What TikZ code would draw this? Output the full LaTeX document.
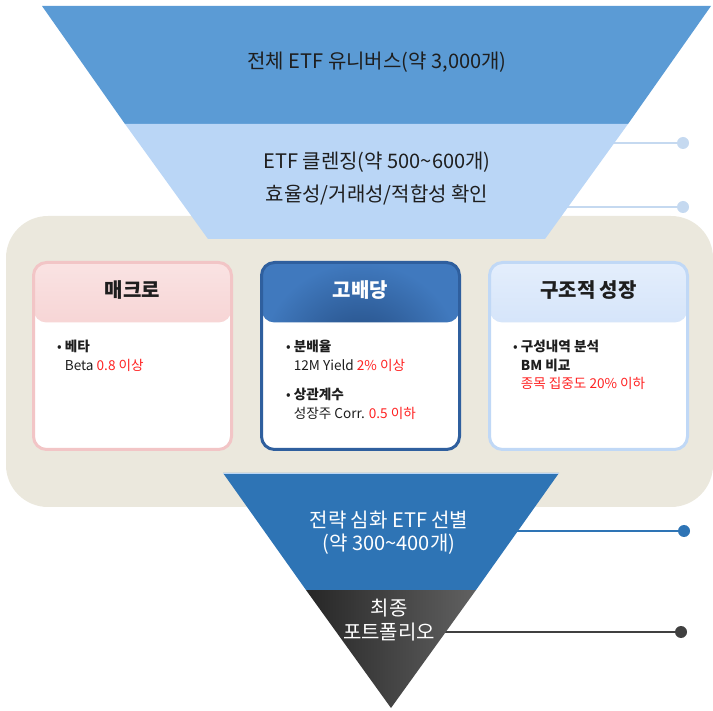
\documentclass[tikz,border=0pt]{standalone}
\usepackage{fontspec}
\setmainfont{Noto Sans CJK KR}
\usetikzlibrary{positioning}

\definecolor{topblue}{HTML}{5B9BD5}
\definecolor{lightblue}{HTML}{BAD6F6}
\definecolor{beige}{HTML}{EBE8DD}
\definecolor{deepblue}{HTML}{2E74B5}
\definecolor{linklight}{HTML}{C5D9F0}
\definecolor{linkdark}{HTML}{404040}
\definecolor{pinkedge}{HTML}{F2C5C6}
\definecolor{pinktop}{HTML}{FAE3E3}
\definecolor{pinkbot}{HTML}{F0B8B9}
\definecolor{navyedge}{HTML}{2F5F9E}
\definecolor{navyin}{HTML}{22497E}
\definecolor{navyout}{HTML}{4079BE}
\definecolor{skyedge}{HTML}{C0D8F6}
\definecolor{skytop}{HTML}{E4EEFC}
\definecolor{skybot}{HTML}{B6D1F4}
\definecolor{hlred}{HTML}{FF2222}
\definecolor{txtdark}{HTML}{1E1E1E}

\newcommand{\redtxt}[1]{\textcolor{hlred}{#1}}

\begin{document}
\begin{tikzpicture}[
      x=1pt, y=-1pt,
      node distance=228pt,
      card/.style={rectangle,rounded corners=13pt,line width=3pt,fill=white,minimum width=198pt,minimum height=187pt},
      head/.style={path picture={\shade[#1] (path picture bounding box.north west) rectangle ([yshift=-60pt]path picture bounding box.north east);}},
      title/.style={font=\fontsize{20}{23}\selectfont\bfseries},
      body/.style={anchor=north west,align=left,inner sep=0pt,text=txtdark,font=\fontsize{13.6}{18.5}\selectfont},
      band/.style={font=\fontsize{20}{24}\selectfont,text=txtdark,align=center},
      link/.style={line width=2.6pt},
      dot/.style={circle,inner sep=0pt,minimum size=12pt}
    ]
    \useasboundingbox (0,0) rectangle (713,711);

    % background panel
    \fill[beige,rounded corners=42pt] (6,216) rectangle (713,507);

    % side connectors
    \coordinate (e1) at (612,143);
    \coordinate (e2) at (566,207);
    \coordinate (e3) at (512,531);
    \coordinate (e4) at (442,632);
    \node[dot,fill=linklight] (d1) at (683,143) {};
    \node[dot,fill=linklight] (d2) at (683,207) {};
    \node[dot,fill=deepblue] (d3) at (684,531) {};
    \node[dot,fill=linkdark] (d4) at (681,632) {};
    \draw[link,linklight] (e1) -- (d1);
    \draw[link,linklight] (e2) -- (d2);
    \draw[link,deepblue] (e3) -- (d3);
    \draw[link,linkdark] (e4) -- (d4);

    % funnel
    \fill[topblue] (42,6) -- (711,6) -- (628,124) -- (125,124) -- cycle;
    \fill[lightblue] (125,124) -- (628,124) -- (545,239) -- (208,239) -- cycle;
    \fill[deepblue] (223,473) -- (559,473) -- (476,590) -- (306,590) -- cycle;
    \draw[line width=1pt,lightblue] (223,473.5) -- (559,473.5);
    \shade[left color=black!85,right color=black!62] (306,590) -- (476,590) -- (391,708) -- cycle;

    \node[band] (universe) at (377,62) {전체 ETF 유니버스(약 3,000개)};
    \node[band] (cleanse) at (377,179) {ETF 클렌징(약 500\textasciitilde600개)\\[9pt]효율성/거래성/적합성 확인};
    \node[band,font=\fontsize{20}{23}\selectfont,text=white] (select) at (389,533) {전략 심화 ETF 선별\\(약 300\textasciitilde400개)};
    \node[band,font=\fontsize{20}{24}\selectfont,text=white] (final) at (389,620) {최종\\포트폴리오};

    % cards
    \node[card,draw=pinkedge,head={top color=pinktop,bottom color=pinkbot}] (macro) at (132.5,356) {};
    \node[card,draw=navyedge,head={inner color=navyin,outer color=navyout},right of=macro] (divid) {};
    \node[card,draw=skyedge,head={top color=skytop,bottom color=skybot},right of=divid] (growth) {};

    \node[title,text=txtdark] (macroTitle) at ([yshift=-29pt]macro.north) {매크로};
    \node[title,text=white] (dividTitle) at ([yshift=-29pt]divid.north) {고배당};
    \node[title,text=txtdark] (growthTitle) at ([yshift=-29pt]growth.north) {구조적 성장};

    \node[body] (macroText) at ([xshift=25pt,yshift=-79pt]macro.north west)
      {\textbullet\ \textbf{베타}\\\phantom{\textbullet\ }Beta \redtxt{0.8 이상}};
    \node[body] (dividText) at ([xshift=26pt,yshift=-79pt]divid.north west)
      {\textbullet\ \textbf{분배율}\\\phantom{\textbullet\ }12M Yield \redtxt{2\% 이상}\\[11pt]%
       \textbullet\ \textbf{상관계수}\\\phantom{\textbullet\ }성장주 Corr. \redtxt{0.5 이하}};
    \node[body] (growthText) at ([xshift=25pt,yshift=-79pt]growth.north west)
      {\textbullet\ \textbf{구성내역 분석}\\\phantom{\textbullet\ }\textbf{BM 비교}\\\phantom{\textbullet\ }\redtxt{종목 집중도 20\% 이하}};
  \end{tikzpicture}
\end{document}
